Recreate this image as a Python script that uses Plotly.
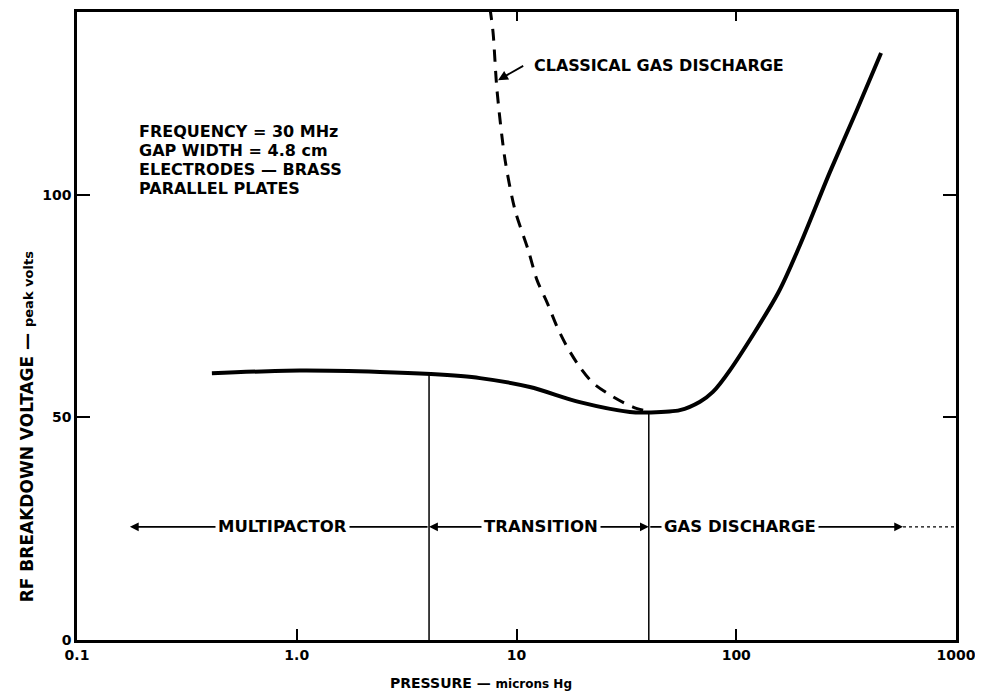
import plotly.graph_objects as go
import math

# ---- data ----
rf_pressure = [0.411, 1.03, 2.39, 4.08, 6.82, 11.5, 19.4, 32.8, 40.5, 55.4, 68.4, 78.3, 93.7, 155, 195, 267, 354, 456]
rf_voltage = [59.9, 60.5, 60.2, 59.7, 58.8, 56.8, 53.4, 51.2, 51.1, 51.6, 53.5, 55.7, 60.6, 77.9, 88.7, 105.1, 119.0, 131.8]

classical_pressure = [7.57, 7.82, 8.15, 8.87, 9.85, 11.3, 12.4, 13.8, 15.3, 17.0, 19.4, 22.3, 27.5, 33.9, 40.5]
classical_voltage = [141.9, 136.5, 123.5, 107.8, 96.5, 87.6, 80.8, 75.7, 70.3, 65.8, 61.3, 57.7, 54.6, 52.3, 51.2]

boundary_pressure = [4.0, 40.0]
boundary_top = [59.7, 51.1]

x_tick_vals = [0.1, 1, 10, 100, 1000]
x_tick_text = ["0.1", "1.0", "10", "100", "1000"]
y_tick_vals = [0, 50, 100]
y_tick_text = ["0", "50", "100"]

region_level = 25.4
region_names = ["MULTIPACTOR", "TRANSITION", "GAS DISCHARGE"]
region_centers = [0.857, 12.9, 104.0]
region_arrow_heads = [0.174, 4.0, 40.0, 574.0]

info_lines = ["FREQUENCY = 30 MHz", "GAP WIDTH = 4.8 cm", "ELECTRODES — BRASS", "PARALLEL PLATES"]

FONT = "DejaVu Sans, Liberation Sans, sans-serif"
L = math.log10

fig = go.Figure()

# boundary verticals
for bx, bt in zip(boundary_pressure, boundary_top):
    fig.add_trace(go.Scatter(x=[bx, bx], y=[0, bt], mode="lines",
                             line=dict(color="black", width=1.5), showlegend=False, hoverinfo="skip"))

# classical gas discharge (dashed)
fig.add_trace(go.Scatter(x=classical_pressure, y=classical_voltage, mode="lines",
                         line=dict(color="black", width=3, dash="12px,9px", shape="spline", smoothing=0.8),
                         showlegend=False, cliponaxis=True))
# measured breakdown curve
fig.add_trace(go.Scatter(x=rf_pressure, y=rf_voltage, mode="lines",
                         line=dict(color="black", width=4, shape="spline", smoothing=0.8),
                         showlegend=False))

# dotted continuation at right
fig.add_trace(go.Scatter(x=[region_arrow_heads[3], 1000], y=[region_level, region_level], mode="lines",
                         line=dict(color="black", width=1.2, dash="dot"), showlegend=False, hoverinfo="skip"))

annotations = []
def arrow(head, tail):
    annotations.append(dict(x=L(head), y=region_level, ax=L(tail), ay=region_level,
                            xref="x", yref="y", axref="x", ayref="y", text="",
                            showarrow=True, arrowhead=2, arrowsize=1.1, arrowwidth=1.6,
                            arrowcolor="black"))
arrow(region_arrow_heads[0], region_arrow_heads[1])   # multipactor, line to boundary
arrow(region_arrow_heads[1], region_centers[1])       # transition left
arrow(region_arrow_heads[2], region_centers[1])       # transition right
arrow(region_arrow_heads[3], region_arrow_heads[2])   # gas discharge right

for name, cx in zip(region_names, region_centers):
    annotations.append(dict(x=L(cx), y=region_level, xref="x", yref="y", text="<b>%s</b>" % name,
                            showarrow=False, font=dict(family=FONT, size=16.5, color="black"),
                            bgcolor="white", borderpad=2))

# info block
for i, t in enumerate(info_lines):
    annotations.append(dict(x=0.068, y=0.809 - i * 0.0298, xref="paper", yref="paper",
                            xanchor="left", yanchor="middle", text="<b>%s</b>" % t,
                            showarrow=False, font=dict(family=FONT, size=16, color="black")))

# classical gas discharge label with arrow
annotations.append(dict(x=L(8.24), y=125.7, xref="x", yref="y",
                        ax=L(10.9), ay=129.1, axref="x", ayref="y", text="",
                        showarrow=True, arrowhead=2, arrowsize=1.1, arrowwidth=1.8, arrowcolor="black"))
annotations.append(dict(x=L(11.8), y=129.1, xref="x", yref="y", xanchor="left", yanchor="middle",
                        text="<b>CLASSICAL GAS DISCHARGE</b>", showarrow=False,
                        font=dict(family=FONT, size=16, color="black")))

# axis titles (paper coords are relative to the plot area)
annotations.append(dict(x=-0.056, y=0.34, xref="paper", yref="paper", textangle=-90,
                        text="<b>RF BREAKDOWN VOLTAGE — <span style='font-size:13px'>peak volts</span></b>",
                        showarrow=False, font=dict(family=FONT, size=17, color="black"),
                        xanchor="center", yanchor="middle"))
annotations.append(dict(x=0.46, y=-0.069, xref="paper", yref="paper",
                        text="<b>PRESSURE — <span style='font-size:12px'>microns Hg</span></b>",
                        showarrow=False, font=dict(family=FONT, size=14, color="black"),
                        xanchor="center", yanchor="middle"))

# invisible trace to activate secondary axes
fig.add_trace(go.Scatter(x=[0.1], y=[0], xaxis="x2", yaxis="y2", mode="markers",
                         marker=dict(opacity=0), showlegend=False, hoverinfo="skip"))

axis_common = dict(showgrid=False, zeroline=False, linecolor="black", linewidth=2.5,
                   ticks="inside", tickcolor="black", showline=True)
tick_font = dict(family=FONT, size=14, color="black", weight="bold")

# page body has an 8px margin, so the figure is sized to fill the rest of the window
fig.update_layout(
    width=975, height=685,
    margin=dict(l=69, r=27, t=4, b=53),
    paper_bgcolor="white", plot_bgcolor="white",
    showlegend=False,
    xaxis=dict(type="log", range=[-1, 3], tickvals=x_tick_vals, ticktext=x_tick_text,
               ticklen=11, tickwidth=1.5, tickfont=tick_font, **axis_common),
    yaxis=dict(range=[0, 141], tickvals=y_tick_vals, ticktext=y_tick_text,
               ticklen=13, tickwidth=1.5, tickfont=tick_font, **axis_common),
    xaxis2=dict(type="log", range=[-1, 3], overlaying="x", side="top", tickvals=[10, 100],
                showticklabels=False, ticklen=9, tickwidth=1.5, **axis_common),
    yaxis2=dict(range=[0, 141], overlaying="y", side="right", tickvals=[50, 100],
                showticklabels=False, ticklen=13, tickwidth=1.5, **axis_common),
    annotations=annotations,
)

fig.write_html("out.html")
